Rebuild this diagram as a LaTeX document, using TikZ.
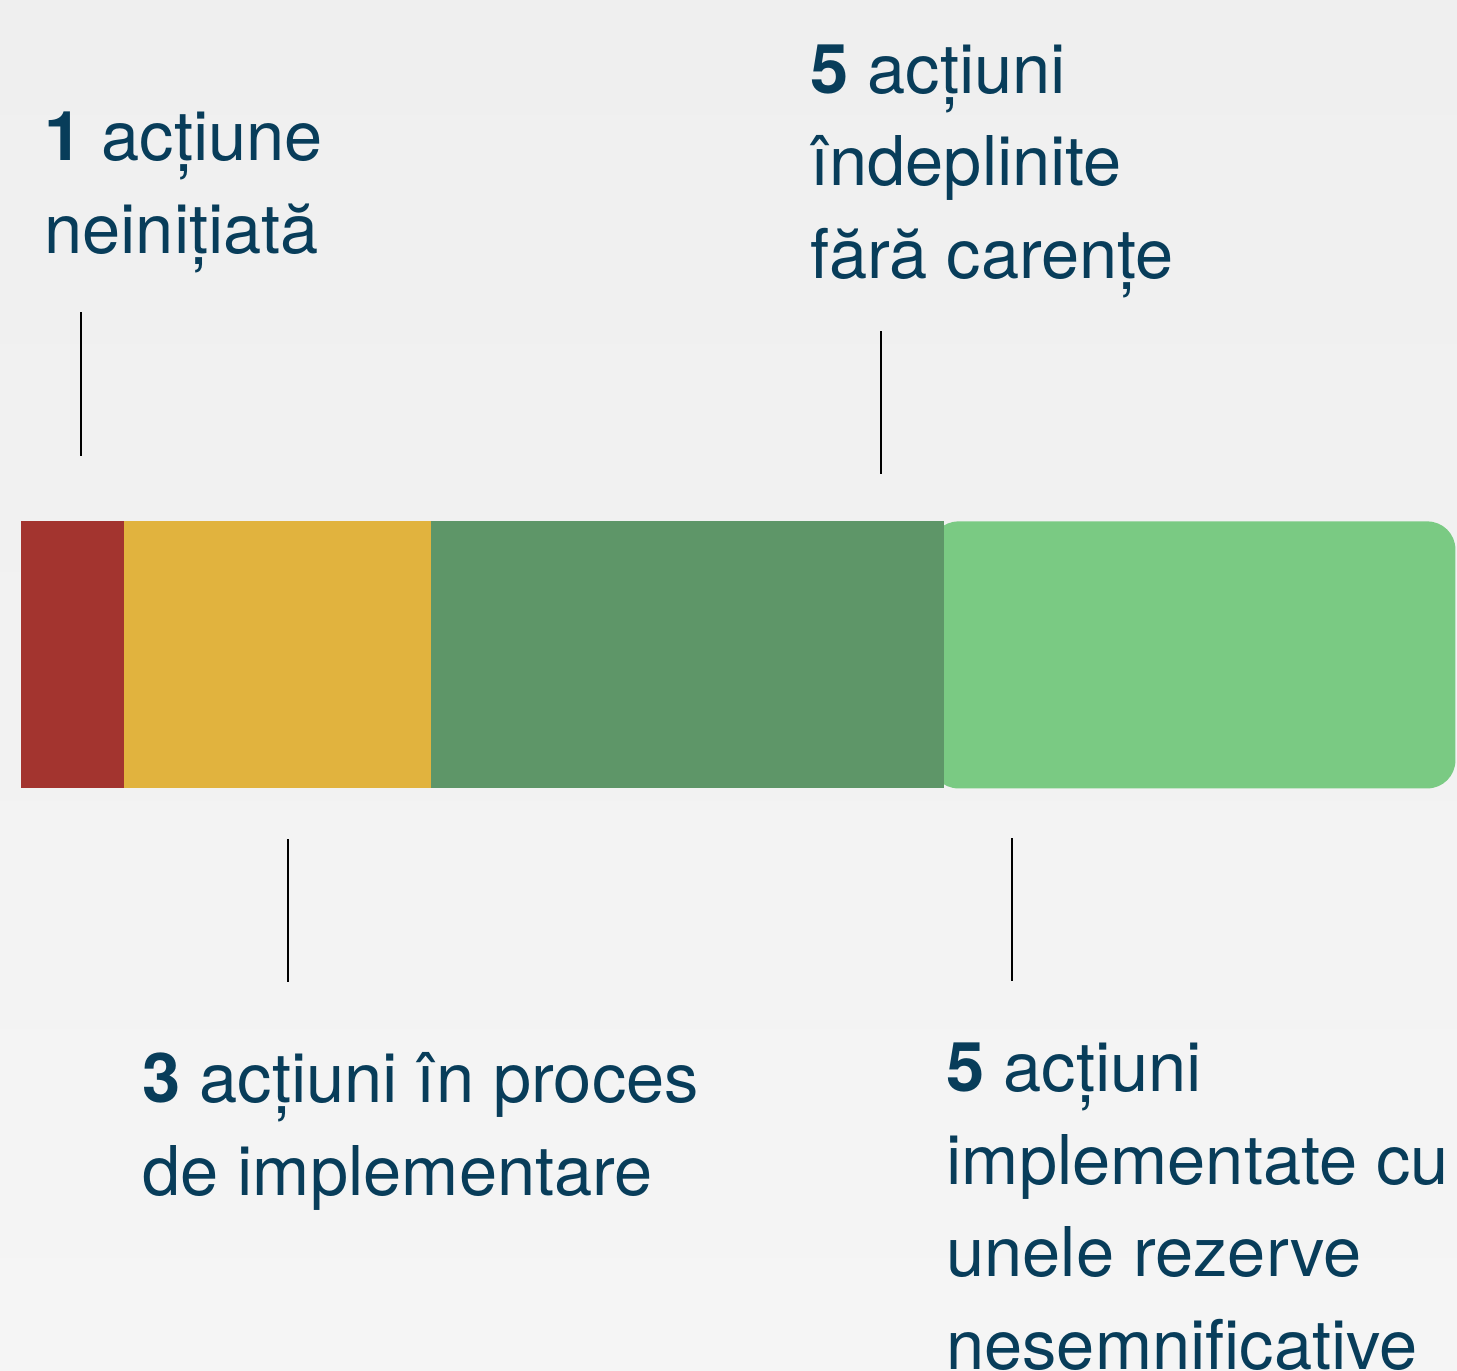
\documentclass[tikz,border=0pt]{standalone}
\usepackage{fontspec}
\setmainfont{TeX Gyre Heros}
\usepackage{tikz}
\definecolor{cText}{RGB}{8,61,90}
\definecolor{cRed}{RGB}{163,52,47}
\definecolor{cYellow}{RGB}{225,179,62}
\definecolor{cDark}{RGB}{94,150,104}
\definecolor{cLight}{RGB}{122,202,131}
\tikzset{
  seg/.style={inner sep=0pt, minimum height=133.5pt, anchor=north west},
  tick/.style={line width=1.1pt, black},
  lbl/.style={anchor=base west, align=left, inner sep=0pt, text=cText,
    font=\fontsize{34.3}{46.25}\selectfont}
}
\begin{document}
\begin{tikzpicture}[x=0.5pt,y=-0.5pt]
\useasboundingbox (0,0) rectangle (1457,1371);
\shade[top color={rgb,255:red,239;green,239;blue,239}, bottom color={rgb,255:red,245;green,245;blue,245}] (0,0) rectangle (1457,1371);
\node[seg, fill=cLight, minimum width=262.5pt, rounded corners=14pt] (fara) at (930,521) {};
\node[seg, fill=cRed, minimum width=51.5pt] (nein) at (21,521) {};
\node[seg, fill=cYellow, minimum width=153.5pt] (proc) at (124,521) {};
\node[seg, fill=cDark, minimum width=256.5pt] (indep) at (431,521) {};
% labels (anchored at the last line)
\node[lbl] (tNein) at (44,253) {\textbf{1} acțiune\\neinițiată};
\node[lbl] (tIndep) at (810,278) {\textbf{5} acțiuni\\îndeplinite\\fără carențe};
\node[lbl] (tProc) at (142,1195) {\textbf{3} acțiuni în proces\\de implementare};
\node[lbl] (tFara) at (946,1369) {\textbf{5} acțiuni\\implementate cu\\unele rezerve\\nesemnificative};
% ticks
\coordinate (a1) at (81,312); \coordinate (a2) at (81,456);
\coordinate (b1) at (881,331); \coordinate (b2) at (881,474);
\coordinate (c1) at (288,839); \coordinate (c2) at (288,982);
\coordinate (d1) at (1012,838); \coordinate (d2) at (1012,981);
\draw[tick] (a1) -- (a2);
\draw[tick] (b1) -- (b2);
\draw[tick] (c1) -- (c2);
\draw[tick] (d1) -- (d2);
\end{tikzpicture}
\end{document}
